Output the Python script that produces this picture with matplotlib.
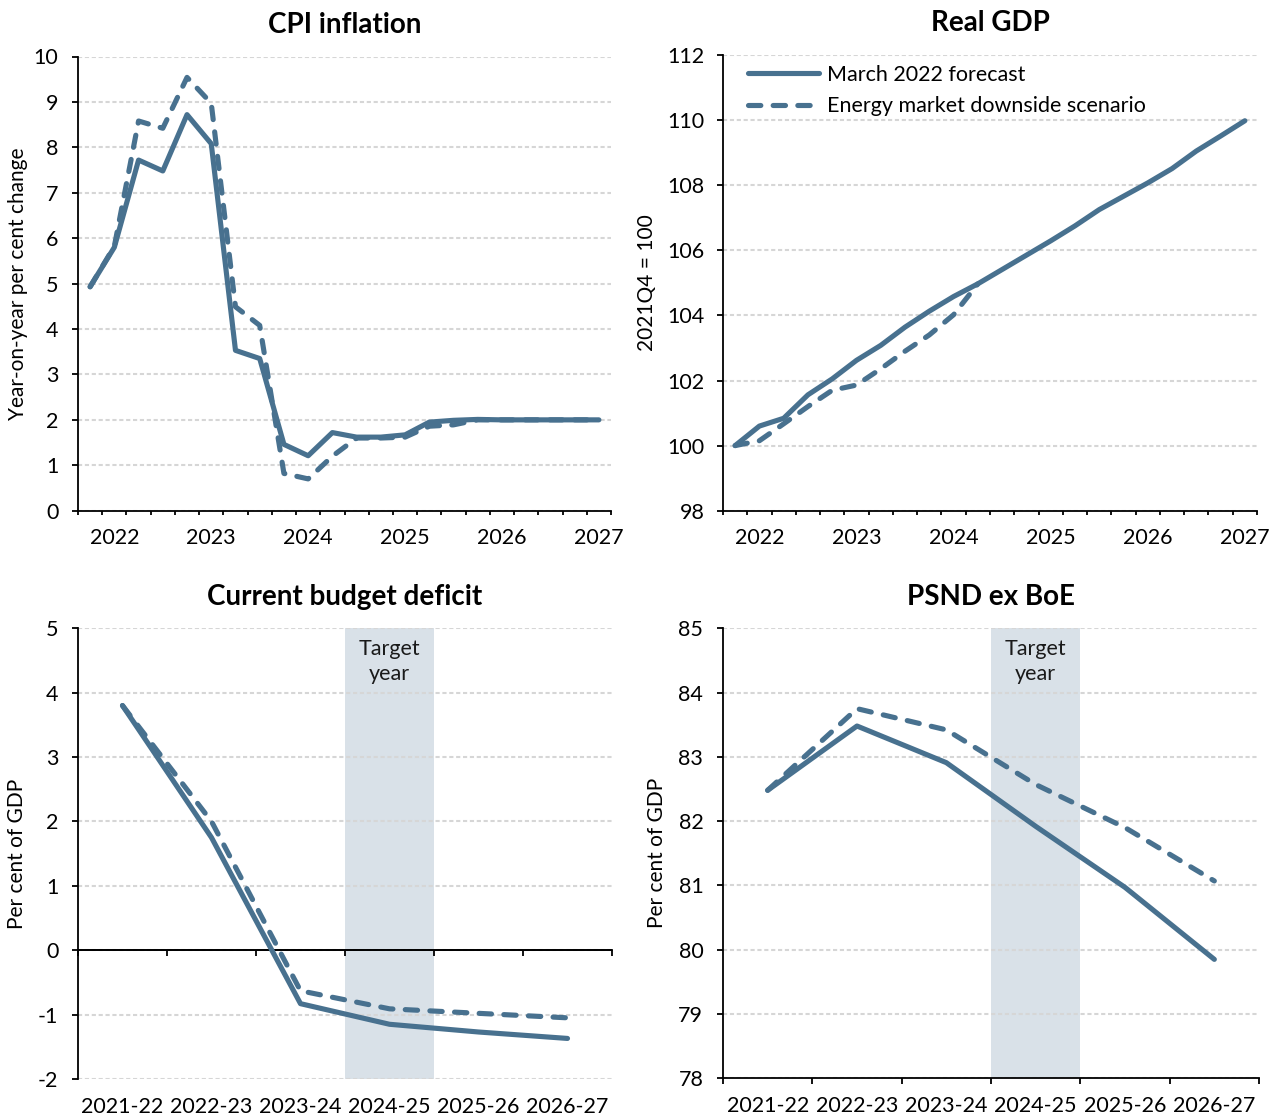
import numpy as np
import matplotlib
matplotlib.use("Agg")
import matplotlib.pyplot as plt
from matplotlib.transforms import blended_transform_factory

plt.rcParams['font.family'] = ['Lato', 'DejaVu Sans']
plt.rcParams['axes.unicode_minus'] = False

# ---------------------------------------------------------------- data
# Quarterly categories, 2021Q4 .. 2027Q1
quarters = [f"{y}Q{q}" for y in range(2021, 2028) for q in range(1, 5)][3:25]
year_labels = ['2022', '2023', '2024', '2025', '2026', '2027']

fiscal_years = ['2021-22', '2022-23', '2023-24', '2024-25', '2025-26', '2026-27']
target_year = '2024-25'

cpi_march = [4.93, 5.8, 7.72, 7.48, 8.72, 8.08, 3.53, 3.35, 1.46, 1.21, 1.72,
             1.62, 1.62, 1.67, 1.95, 1.99, 2.01, 2.0, 2.0, 2.0, 2.0, 2.0]
cpi_energy = [4.93, 5.82, 8.58, 8.42, 9.54, 8.97, 4.49, 4.08, 0.82, 0.7, 1.2,
              1.6, 1.6, 1.62, 1.86, 1.89, 2.0, 2.0, 2.0, 2.0, 2.0, 2.0]

gdp_march = [100.0, 100.6, 100.84, 101.56, 102.05, 102.62, 103.08, 103.64,
             104.13, 104.58, 104.97, 105.41, 105.85, 106.29, 106.75, 107.25,
             107.66, 108.07, 108.51, 109.05, 109.51, 109.98]
gdp_energy = [100.0, 100.15, 100.67, 101.2, 101.7, 101.86, 102.36, 102.9,
              103.4, 104.02, 104.97]

cbd_march = [3.8, 1.75, -0.83, -1.15, -1.27, -1.37]
cbd_energy = [3.8, 2.0, -0.63, -0.91, -0.98, -1.05]

psnd_march = [82.48, 83.48, 82.91, 81.92, 80.97, 79.85]
psnd_energy = [82.48, 83.75, 83.42, 82.57, 81.9, 81.07]

# ---------------------------------------------------------------- style
LINE = '#48718f'
SHADE = '#d9e1e8'
GRID = '#d6d6d6'
LW = 3.7
DASH = (0, (2.4, 2.4))
TICK_FS = 15.5
LABEL_FS = 15
TITLE_FS = 20

fig = plt.figure(figsize=(12.77, 11.17), dpi=100)
W, H = 1277, 1117


def make_axes(l, r, t, b):
    return fig.add_axes([l / W, 1 - b / H, (r - l) / W, (b - t) / H])


ax_cpi = make_axes(78, 611, 56.5, 510.7)
ax_gdp = make_axes(723, 1257, 55, 510.7)
ax_cbd = make_axes(78, 612, 628.3, 1079)
ax_psnd = make_axes(723, 1259, 628.3, 1078.3)


def base_style(ax, yticks, ylabel, label_x, ypad=10):
    ax.set_ylim(yticks[0], yticks[-1])
    ax.set_yticks(yticks)
    ax.yaxis.grid(True, color=GRID, lw=1.5, ls=(0, (2.0, 1.3)))
    ax.set_axisbelow(True)
    for s in ('top', 'right'):
        ax.spines[s].set_visible(False)
    for s in ('left', 'bottom'):
        ax.spines[s].set_linewidth(1.3)
        ax.spines[s].set_color('black')
    ax.tick_params(axis='y', direction='out', length=4.2, width=1.3,
                   labelsize=TICK_FS, pad=ypad)
    ax.set_ylabel(ylabel, fontsize=LABEL_FS)
    ax.yaxis.set_label_coords(label_x, 0.5)


def category_xaxis(ax, n, label_pos, labels, tick_len=3.2):
    ax.set_xlim(-0.5, n - 0.5)
    bounds = np.arange(n + 1) - 0.5
    ax.set_xticks(bounds, labels=[''] * len(bounds))
    ax.set_xticks(label_pos, labels=labels, minor=True)
    ax.tick_params(axis='x', which='major', direction='out', length=tick_len,
                   width=1.3)
    ax.tick_params(axis='x', which='minor', length=0, labelsize=TICK_FS,
                   pad=12.5)


def draw_lines(ax, march, energy):
    ax.plot(np.arange(len(march)), march, color=LINE, lw=LW,
            solid_capstyle='round', solid_joinstyle='round',
            label='March 2022 forecast', zorder=3)
    ax.plot(np.arange(len(energy)), energy, color=LINE, lw=LW, ls=DASH,
            dash_capstyle='round', dash_joinstyle='round',
            label='Energy market downside scenario', zorder=4)


def target_band(ax, cats):
    i = cats.index(target_year)
    ax.axvspan(i - 0.5, i + 0.5, color=SHADE, lw=0, zorder=0)
    tr = blended_transform_factory(ax.transData, ax.transAxes)
    ax.text(i, 0.976, 'Target\nyear', transform=tr, ha='center', va='top',
            fontsize=TICK_FS, linespacing=1.3, color='#1a1a1a')


def panel_title(ax, text):
    ax.set_title(text, fontsize=TITLE_FS, fontweight='bold', pad=17)


year_pos = [quarters.index(y + 'Q1') for y in year_labels]
nq = len(quarters)

# CPI inflation
base_style(ax_cpi, np.arange(0, 11, 1), 'Year-on-year per cent change', -0.094)
category_xaxis(ax_cpi, nq, year_pos, year_labels)
draw_lines(ax_cpi, cpi_march, cpi_energy)
panel_title(ax_cpi, 'CPI inflation')

# Real GDP
base_style(ax_gdp, np.arange(98, 113, 2), '2021Q4 = 100', -0.124, ypad=9)
category_xaxis(ax_gdp, nq, year_pos, year_labels)
draw_lines(ax_gdp, gdp_march, gdp_energy)
panel_title(ax_gdp, 'Real GDP')
leg = ax_gdp.legend(loc='upper left', bbox_to_anchor=(0.018, 1.012),
                    frameon=False, fontsize=15.5, handlelength=3.3,
                    handletextpad=0.37, labelspacing=0.55, borderaxespad=0.3)

# Current budget deficit: x-axis line sits at zero, labels at the bottom
nf = len(fiscal_years)
fy_pos = np.arange(nf)
cbd_ticks = np.arange(-2, 6, 1)
base_style(ax_cbd, cbd_ticks, 'Per cent of GDP', -0.096)
ax_cbd.set_xlim(-0.5, nf - 0.5)
ax_cbd.set_xticks(fy_pos, labels=fiscal_years)
ax_cbd.tick_params(axis='x', length=0, labelsize=TICK_FS, pad=13)
ax_cbd.spines['bottom'].set_visible(False)
ax_cbd.axhline(0, color='black', lw=1.3, zorder=2)
zero_loc = (0 - cbd_ticks[0]) / (cbd_ticks[-1] - cbd_ticks[0])
zero_axis = ax_cbd.secondary_xaxis(zero_loc)
zero_axis.set_zorder(2)
zero_axis.set_xticks(np.arange(nf + 1) - 0.5, labels=[''] * (nf + 1))
zero_axis.tick_params(direction='out', length=4.2, width=1.3)
zero_axis.spines['bottom'].set_linewidth(1.3)
target_band(ax_cbd, fiscal_years)
draw_lines(ax_cbd, cbd_march, cbd_energy)
panel_title(ax_cbd, 'Current budget deficit')

# PSND ex BoE
base_style(ax_psnd, np.arange(78, 86, 1), 'Per cent of GDP', -0.105)
category_xaxis(ax_psnd, nf, fy_pos, fiscal_years, tick_len=4.2)
ax_psnd.tick_params(axis='x', which='minor', pad=13)
target_band(ax_psnd, fiscal_years)
draw_lines(ax_psnd, psnd_march, psnd_energy)
panel_title(ax_psnd, 'PSND ex BoE')

fig.savefig('out.png', dpi=100)
